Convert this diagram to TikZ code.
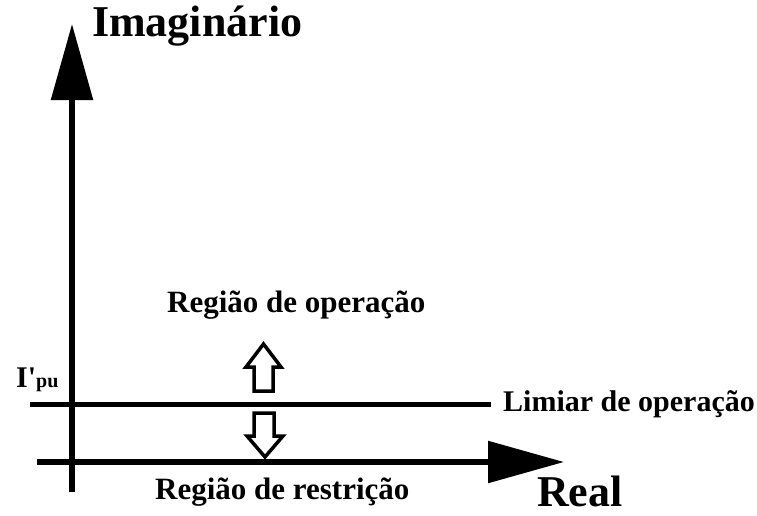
\documentclass[tikz,border=0pt]{standalone}
\usepackage{fontspec}
\setmainfont{Liberation Serif}
\usetikzlibrary{arrows.meta}
\begin{document}
\begin{tikzpicture}[x=1pt,y=-1pt,
  axis/.style={line width=5.5pt,-{Triangle[length=76pt,width=41pt]}},
  plainline/.style={line width=5pt},
  hollow/.style={line width=3.5pt,draw=black,fill=white,line join=miter},
  lbl/.style={inner sep=0pt,anchor=base west,font=\bfseries\fontsize{31}{31}\selectfont},
  big/.style={inner sep=0pt,anchor=base west,font=\bfseries\fontsize{44}{44}\selectfont}]
\useasboundingbox (0,0) rectangle (757,515);
% coordinates
\coordinate (vbot) at (72,492);
\coordinate (vtop) at (72,24);
\coordinate (hleft) at (37,462);
\coordinate (hright) at (564,462);
\coordinate (tleft) at (30,404);
\coordinate (tright) at (491,404);
% axes
\draw[axis] (vbot) -- (vtop);
\draw[axis] (hleft) -- (hright);
\draw[plainline] (tleft) -- (tright);
% hollow arrows
\draw[hollow] (254,391) -- (254,367) -- (246,367) -- (263.5,344) -- (281,367) -- (273,367) -- (273,391) -- cycle;
\draw[hollow] (254,413) -- (254,436) -- (247,436) -- (265,457) -- (283,436) -- (274,436) -- (274,413) -- cycle;
% labels
\node[big] (imag) at (92,36) {Imaginário};
\node[big] (real) at (537,506) {Real};
\node[lbl] (op) at (167,312) {Região de operação};
\node[lbl,font=\bfseries\fontsize{30}{30}\selectfont] (lim) at (503,411) {Limiar de operação};
\node[lbl] (res) at (155,499) {Região de restrição};
\node[inner sep=0pt,anchor=base west,font=\bfseries] (ipu) at (16,387) {{\fontsize{30}{30}\selectfont I\textquotesingle}{\fontsize{20}{20}\selectfont pu}};
\end{tikzpicture}
\end{document}
